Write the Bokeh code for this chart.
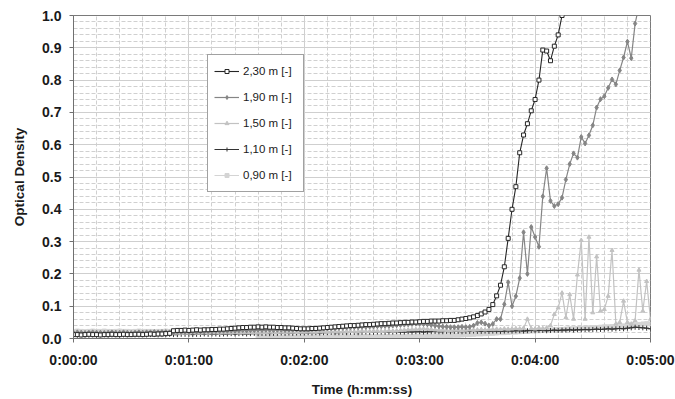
from bokeh.plotting import figure
from bokeh.models import FixedTicker, Range1d, Legend, LegendItem, PrintfTickFormatter
from bokeh.embed import file_html
from bokeh.resources import INLINE

# ---- data (optical density, sampled every 2 s) ----
TIME_S = list(range(0, 302, 2))

OD_230 = [
    0.012, 0.012, 0.011, 0.012, 0.013, 0.012, 0.012, 0.011, 0.012, 0.012,
    0.013, 0.012, 0.012, 0.013, 0.012, 0.012, 0.013, 0.013, 0.012, 0.013,
    0.014, 0.013, 0.014, 0.014, 0.015, 0.016, 0.024, 0.025, 0.025, 0.026,
    0.025, 0.026, 0.027, 0.026, 0.027, 0.027, 0.028, 0.028, 0.029, 0.029,
    0.030, 0.031, 0.032, 0.033, 0.034, 0.034, 0.035, 0.035, 0.036, 0.035,
    0.036, 0.035, 0.035, 0.034, 0.034, 0.033, 0.033, 0.032, 0.031, 0.030,
    0.030, 0.030, 0.031, 0.031, 0.032, 0.033, 0.034, 0.035, 0.036, 0.037,
    0.038, 0.039, 0.040, 0.040, 0.041, 0.042, 0.043, 0.043, 0.044, 0.045,
    0.046, 0.046, 0.047, 0.048, 0.048, 0.049, 0.050, 0.050, 0.051, 0.051,
    0.052, 0.053, 0.053, 0.054, 0.054, 0.054, 0.055, 0.055, 0.056, 0.056,
    0.058, 0.060, 0.062, 0.064, 0.067, 0.071, 0.076, 0.082, 0.090, 0.105,
    0.132, 0.165, 0.222, 0.310, 0.400, 0.470, 0.575, 0.630, 0.665, 0.705,
    0.740, 0.800, 0.893, 0.890, 0.860, 0.905, 0.940, 1.000, 1.040,
]

OD_190 = [
    0.018, 0.019, 0.018, 0.017, 0.018, 0.019, 0.018, 0.018, 0.017, 0.018,
    0.019, 0.018, 0.018, 0.019, 0.018, 0.017, 0.018, 0.019, 0.018, 0.019,
    0.019, 0.020, 0.019, 0.020, 0.020, 0.019, 0.020, 0.021, 0.020, 0.021,
    0.021, 0.022, 0.021, 0.022, 0.022, 0.023, 0.022, 0.023, 0.023, 0.024,
    0.024, 0.025, 0.024, 0.025, 0.026, 0.025, 0.026, 0.026, 0.027, 0.026,
    0.027, 0.027, 0.026, 0.027, 0.027, 0.026, 0.027, 0.027, 0.028, 0.028,
    0.028, 0.029, 0.029, 0.030, 0.030, 0.031, 0.031, 0.032, 0.032, 0.033,
    0.033, 0.034, 0.034, 0.035, 0.035, 0.036, 0.036, 0.037, 0.037, 0.038,
    0.038, 0.039, 0.039, 0.040, 0.041, 0.042, 0.043, 0.044, 0.045, 0.046,
    0.046, 0.045, 0.044, 0.042, 0.040, 0.038, 0.037, 0.036, 0.035, 0.035,
    0.035, 0.036, 0.035, 0.036, 0.040, 0.048, 0.050, 0.046, 0.040, 0.045,
    0.060, 0.060, 0.106, 0.174, 0.100, 0.131, 0.187, 0.329, 0.200, 0.345,
    0.314, 0.284, 0.440, 0.527, 0.426, 0.410, 0.416, 0.436, 0.492, 0.540,
    0.573, 0.560, 0.624, 0.604, 0.629, 0.660, 0.715, 0.741, 0.750, 0.776,
    0.802, 0.787, 0.830, 0.870, 0.919, 0.868, 0.975, 1.030,
]

OD_150 = [
    0.016, 0.015, 0.016, 0.017, 0.016, 0.015, 0.016, 0.016, 0.017, 0.016,
    0.015, 0.016, 0.016, 0.017, 0.016, 0.016, 0.015, 0.016, 0.017, 0.016,
    0.016, 0.017, 0.016, 0.016, 0.017, 0.016, 0.017, 0.017, 0.016, 0.017,
    0.017, 0.018, 0.017, 0.017, 0.018, 0.017, 0.018, 0.018, 0.017, 0.018,
    0.018, 0.018, 0.019, 0.018, 0.019, 0.018, 0.019, 0.019, 0.018, 0.019,
    0.019, 0.020, 0.019, 0.019, 0.020, 0.019, 0.020, 0.020, 0.019, 0.020,
    0.020, 0.021, 0.020, 0.020, 0.021, 0.021, 0.020, 0.021, 0.022, 0.021,
    0.021, 0.022, 0.022, 0.021, 0.022, 0.023, 0.022, 0.022, 0.023, 0.023,
    0.022, 0.023, 0.024, 0.023, 0.024, 0.025, 0.026, 0.027, 0.028, 0.028,
    0.029, 0.030, 0.029, 0.028, 0.027, 0.026, 0.026, 0.025, 0.025, 0.026,
    0.026, 0.025, 0.026, 0.027, 0.026, 0.027, 0.028, 0.027, 0.028, 0.028,
    0.029, 0.028, 0.030, 0.029, 0.030, 0.031, 0.030, 0.032, 0.060, 0.031,
    0.030, 0.032, 0.031, 0.033, 0.040, 0.075, 0.095, 0.141, 0.065, 0.136,
    0.060, 0.197, 0.304, 0.060, 0.314, 0.080, 0.253, 0.085, 0.090, 0.131,
    0.273, 0.045, 0.050, 0.116, 0.050, 0.045, 0.055, 0.212, 0.085, 0.177,
    0.060,
]

OD_110 = [
    0.010, 0.010, 0.011, 0.010, 0.010, 0.011, 0.010, 0.011, 0.011, 0.010,
    0.011, 0.011, 0.010, 0.011, 0.011, 0.012, 0.011, 0.011, 0.012, 0.011,
    0.012, 0.012, 0.011, 0.012, 0.012, 0.013, 0.012, 0.012, 0.013, 0.013,
    0.013, 0.012, 0.013, 0.013, 0.014, 0.013, 0.014, 0.014, 0.013, 0.014,
    0.014, 0.015, 0.014, 0.015, 0.015, 0.014, 0.015, 0.016, 0.015, 0.016,
    0.016, 0.015, 0.016, 0.016, 0.017, 0.016, 0.017, 0.016, 0.017, 0.017,
    0.017, 0.018, 0.017, 0.018, 0.017, 0.018, 0.018, 0.019, 0.018, 0.018,
    0.019, 0.018, 0.019, 0.019, 0.018, 0.019, 0.020, 0.019, 0.019, 0.020,
    0.020, 0.019, 0.020, 0.020, 0.021, 0.020, 0.020, 0.021, 0.020, 0.021,
    0.021, 0.020, 0.021, 0.021, 0.022, 0.021, 0.021, 0.022, 0.021, 0.022,
    0.022, 0.021, 0.022, 0.022, 0.023, 0.022, 0.022, 0.023, 0.022, 0.023,
    0.023, 0.022, 0.023, 0.024, 0.023, 0.024, 0.024, 0.023, 0.024, 0.025,
    0.024, 0.025, 0.025, 0.024, 0.025, 0.026, 0.025, 0.026, 0.026, 0.027,
    0.026, 0.027, 0.027, 0.028, 0.027, 0.028, 0.029, 0.028, 0.029, 0.030,
    0.029, 0.030, 0.031, 0.030, 0.032, 0.033, 0.035, 0.034, 0.033, 0.032,
    0.030,
]

OD_090 = [
    0.022, 0.023, 0.022, 0.021, 0.022, 0.023, 0.022, 0.022, 0.023, 0.022,
    0.021, 0.022, 0.023, 0.022, 0.022, 0.021, 0.022, 0.023, 0.022, 0.022,
    0.022, 0.021, 0.022, 0.022, 0.023, 0.022, 0.021, 0.022, 0.022, 0.021,
    0.022, 0.021, 0.021, 0.022, 0.021, 0.021, 0.020, 0.021, 0.021, 0.020,
    0.020, 0.021, 0.020, 0.020, 0.019, 0.020, 0.019, 0.019, 0.006, 0.005,
    0.005, 0.004, 0.005, 0.005, 0.004, 0.005, 0.005, 0.004, 0.005, 0.005,
    0.005, 0.004, 0.005, 0.005, 0.005, 0.004, 0.005, 0.005, 0.006, 0.005,
    0.005, 0.006, 0.005, 0.005, 0.006, 0.005, 0.006, 0.006, 0.005, 0.006,
    0.006, 0.005, 0.006, 0.006, 0.007, 0.006, 0.006, 0.007, 0.006, 0.007,
    0.007, 0.007, 0.008, 0.007, 0.008, 0.008, 0.009, 0.008, 0.009, 0.010,
    0.010, 0.011, 0.012, 0.012, 0.013, 0.014, 0.014, 0.015, 0.016, 0.016,
    0.017, 0.018, 0.018, 0.019, 0.020, 0.020, 0.021, 0.022, 0.022, 0.023,
    0.024, 0.024, 0.025, 0.026, 0.026, 0.027, 0.028, 0.028, 0.029, 0.030,
    0.030, 0.031, 0.032, 0.032, 0.033, 0.034, 0.034, 0.035, 0.036, 0.036,
    0.037, 0.038, 0.038, 0.039, 0.040, 0.041, 0.042, 0.043, 0.045, 0.046,
    0.045,
]

SERIES_LABELS = ["2,30 m [-]", "1,90 m [-]", "1,50 m [-]", "1,10 m [-]", "0,90 m [-]"]

X_TICKS = [0, 60, 120, 180, 240, 300]
X_TICK_LABELS = ["0:00:00", "0:01:00", "0:02:00", "0:03:00", "0:04:00", "0:05:00"]
Y_TICKS = [0.0, 0.1, 0.2, 0.3, 0.4, 0.5, 0.6, 0.7, 0.8, 0.9, 1.0]

FONT = "Liberation Sans"

p = figure(width=675, height=399, output_backend="svg", toolbar_location=None,
           x_range=Range1d(0, 300), y_range=Range1d(0, 1.0),
           min_border_left=73, min_border_right=25, min_border_top=15,
           min_border_bottom=56, background_fill_color="white",
           border_fill_color="white")

p.outline_line_color = "#7a7a7a"
p.outline_line_width = 1

# ticks / grid
p.xaxis.ticker = FixedTicker(ticks=X_TICKS, minor_ticks=list(range(0, 301, 12)))
p.yaxis.ticker = FixedTicker(ticks=Y_TICKS, minor_ticks=[i / 50 for i in range(51)])
p.xaxis.major_label_overrides = {t: lab for t, lab in zip(X_TICKS, X_TICK_LABELS)}
p.yaxis.formatter = PrintfTickFormatter(format="%.1f")

for g in (p.xgrid, p.ygrid):
    g.grid_line_color = "#cfcfcf"
    g.grid_line_width = 1
    g.minor_grid_line_color = "#d0d0d0"
    g.minor_grid_line_dash = "4 2"
    g.minor_grid_line_width = 1

for ax in (p.xaxis, p.yaxis):
    ax.axis_line_color = "#707070"
    ax.major_tick_line_color = "#707070"
    ax.major_tick_out = 4
    ax.major_tick_in = 0
    ax.minor_tick_line_color = None
    ax.major_label_text_font = FONT
    ax.major_label_text_font_style = "bold"
    ax.major_label_text_font_size = "14px"
    ax.major_label_text_color = "#1a1a1a"
    ax.axis_label_text_font = FONT
    ax.axis_label_text_font_style = "bold"
    ax.axis_label_text_font_size = "13.5px"
    ax.axis_label_text_color = "#1a1a1a"

p.xaxis.axis_label = "Time (h:mm:ss)"
p.yaxis.axis_label = "Optical Density"
p.xaxis.major_label_standoff = 9
p.yaxis.major_label_standoff = 8
p.xaxis.axis_label_standoff = 11
p.yaxis.axis_label_standoff = 12

# ---- series (drawn lightest first so the dark ones sit on top) ----
items = {}

t = TIME_S[:len(OD_090)]
l = p.line(t, OD_090, line_color="#d4d4d4", line_width=1)
s = p.scatter(t, OD_090, marker="square", size=4, fill_color="#d4d4d4", line_color="#d4d4d4")
items["0,90 m [-]"] = [l, s]

t = TIME_S[:len(OD_110)]
l = p.line(t, OD_110, line_color="#333333", line_width=1)
s = p.scatter(t, OD_110, marker="cross", size=5, line_color="#333333", line_width=1)
items["1,10 m [-]"] = [l, s]

t = TIME_S[:len(OD_150)]
l = p.line(t, OD_150, line_color="#c2c2c2", line_width=1.2)
s = p.scatter(t, OD_150, marker="triangle", size=4, fill_color="#c2c2c2", line_color="#c2c2c2")
items["1,50 m [-]"] = [l, s]

t = TIME_S[:len(OD_190)]
l = p.line(t, OD_190, line_color="#858585", line_width=1.2)
s = p.scatter(t, OD_190, marker="diamond", size=5, fill_color="#858585", line_color="#858585")
items["1,90 m [-]"] = [l, s]

t = TIME_S[:len(OD_230)]
l = p.line(t, OD_230, line_color="#262626", line_width=1.1)
s = p.scatter(t, OD_230, marker="square", size=4, fill_color="white", line_color="#262626", line_width=1)
items["2,30 m [-]"] = [l, s]

legend = Legend(items=[LegendItem(label=lab, renderers=items[lab]) for lab in SERIES_LABELS],
                location=(134, 146), orientation="vertical",
                label_text_font=FONT, label_text_font_size="11.5px",
                label_text_color="#1a1a1a",
                border_line_color="#444444", border_line_width=1,
                background_fill_color="white", background_fill_alpha=1.0,
                padding=6, spacing=6, margin=0,
                label_height=20, glyph_height=10, glyph_width=25,
                label_standoff=4, label_width=54)
p.add_layout(legend)

open("out.html", "w").write(file_html(p, INLINE))
